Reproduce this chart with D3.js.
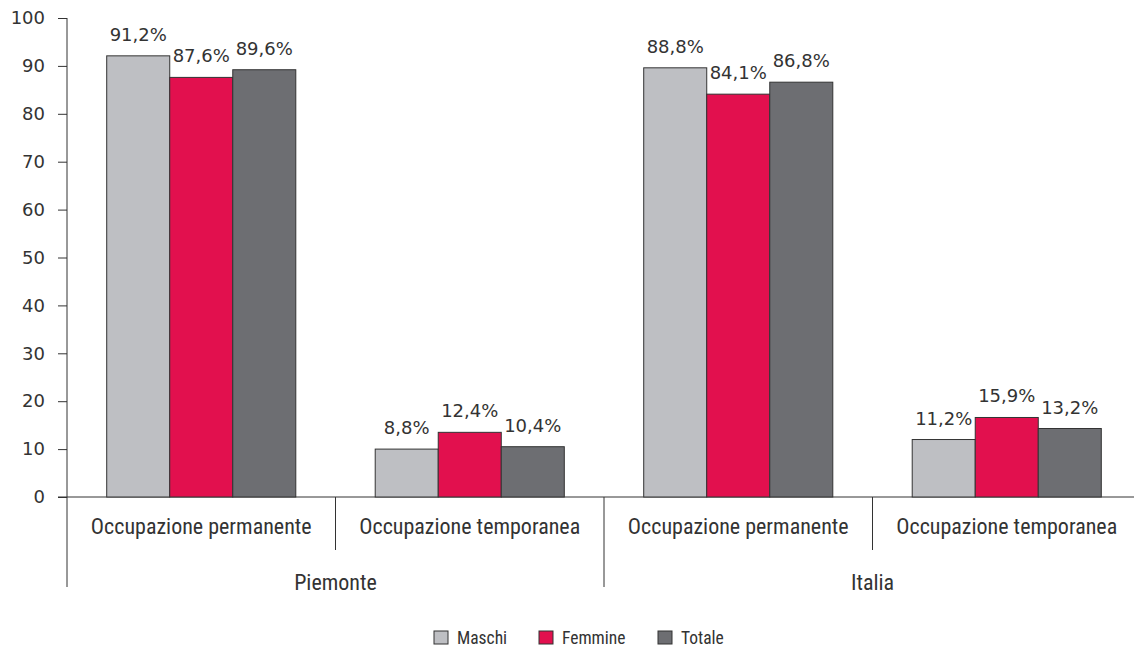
<!DOCTYPE html>
<html><head><meta charset="utf-8">
<script src="https://cdn.jsdelivr.net/npm/d3@7"></script>
<style>
body{margin:0;background:#fff;}
svg text{fill:#333;}
</style></head>
<body><svg id="c" width="1134" height="648"></svg>
<script>
const regions = ["Piemonte", "Italia"];
const categories = ["Occupazione permanente", "Occupazione temporanea"];
const series = ["Maschi", "Femmine", "Totale"];
const colors = ["#bebfc3", "#e2104e", "#6d6e72"];
// bar heights as drawn in the picture (per region, per category, per series)
const barPiemontePerm = [92.1, 87.6, 89.2];
const barPiemonteTemp = [10.0, 13.5, 10.5];
const barItaliaPerm = [89.6, 84.1, 86.6];
const barItaliaTemp = [12.0, 16.6, 14.3];
// value labels printed above bars
const lblPiemontePerm = ["91,2%", "87,6%", "89,6%"];
const lblPiemonteTemp = ["8,8%", "12,4%", "10,4%"];
const lblItaliaPerm = ["88,8%", "84,1%", "86,8%"];
const lblItaliaTemp = ["11,2%", "15,9%", "13,2%"];
const yTicks = [0, 10, 20, 30, 40, 50, 60, 70, 80, 90, 100];

const groups = [
  {region: "Piemonte", cat: categories[0], vals: barPiemontePerm, lbls: lblPiemontePerm},
  {region: "Piemonte", cat: categories[1], vals: barPiemonteTemp, lbls: lblPiemonteTemp},
  {region: "Italia", cat: categories[0], vals: barItaliaPerm, lbls: lblItaliaPerm},
  {region: "Italia", cat: categories[1], vals: barItaliaTemp, lbls: lblItaliaTemp}
];
groups.forEach((g, i) => g.key = i);

const svg = d3.select("#c");
const numFont = "'DejaVu Sans', sans-serif";
const catFont = "'Liberation Sans Narrow', 'Roboto Condensed', 'Liberation Sans', sans-serif";

const x0 = d3.scaleBand().domain(groups.map(g => g.key)).range([67, 1141]).paddingInner(0).paddingOuter(0);
const x1 = d3.scaleBand().domain(series).range([0, x0.bandwidth()]).paddingInner(0).paddingOuter(0.63);
const y = d3.scaleLinear().domain([0, 100]).range([497, 18]);
const color = d3.scaleOrdinal().domain(series).range(colors);

// y axis
const yAxis = svg.append("g").attr("transform", "translate(67,0)")
  .call(d3.axisLeft(y).tickValues(yTicks).tickSize(9).tickPadding(13));
yAxis.select(".domain").attr("stroke", "#333").attr("d", "M0,18V587");
yAxis.selectAll(".tick line").attr("stroke", "#333");
yAxis.selectAll(".tick text").attr("font-family", numFont).attr("font-size", 18).attr("fill", "#333");

// x baseline
svg.append("line").attr("x1", 58).attr("x2", 1134).attr("y1", y(0)).attr("y2", y(0)).attr("stroke", "#333");

// bars
const gg = svg.selectAll("g.grp").data(groups).join("g").attr("class", "grp")
  .attr("transform", d => `translate(${x0(d.key)},0)`);
gg.selectAll("rect").data(d => d.vals.map((v, i) => ({s: series[i], v, l: d.lbls[i]}))).join("rect")
  .attr("x", d => x1(d.s)).attr("width", x1.bandwidth())
  .attr("y", d => y(d.v)).attr("height", d => y(0) - y(d.v))
  .attr("fill", d => color(d.s)).attr("stroke", "#333").attr("stroke-width", 1);
gg.selectAll("text.val").data(d => d.vals.map((v, i) => ({s: series[i], v, l: d.lbls[i]}))).join("text")
  .attr("class", "val")
  .attr("x", d => x1(d.s) + x1.bandwidth() / 2).attr("y", d => y(d.v) - 15)
  .attr("text-anchor", "middle").attr("font-family", numFont).attr("font-size", 18)
  .text(d => d.l);

// category labels
gg.append("text").attr("x", x0.bandwidth() / 2).attr("y", 534)
  .attr("text-anchor", "middle").attr("font-family", catFont).attr("font-size", 22)
  .text(d => d.cat);

// dividers
groups.forEach((g, i) => {
  if (i === 0) return;
  const xx = x0(g.key);
  const long = g.region !== groups[i - 1].region;
  svg.append("line").attr("x1", xx).attr("x2", xx).attr("y1", y(0)).attr("y2", long ? 587 : 550).attr("stroke", "#333");
});

// region labels
regions.forEach(r => {
  const gs = groups.filter(g => g.region === r);
  const cx = (x0(gs[0].key) + x0(gs[gs.length - 1].key) + x0.bandwidth()) / 2;
  svg.append("text").attr("x", cx).attr("y", 590).attr("text-anchor", "middle")
    .attr("font-family", catFont).attr("font-size", 22).text(r);
});

// legend
const legX = [434, 539, 658];
const lg = svg.selectAll("g.leg").data(series).join("g").attr("class", "leg")
  .attr("transform", (d, i) => `translate(${legX[i]},631)`);
lg.append("rect").attr("width", 14).attr("height", 13).attr("fill", d => color(d)).attr("stroke", "#333").attr("stroke-width", 1);
lg.append("text").attr("x", 23).attr("y", 13).attr("font-family", catFont).attr("font-size", 17.5).text(d => d);
</script></body></html>
